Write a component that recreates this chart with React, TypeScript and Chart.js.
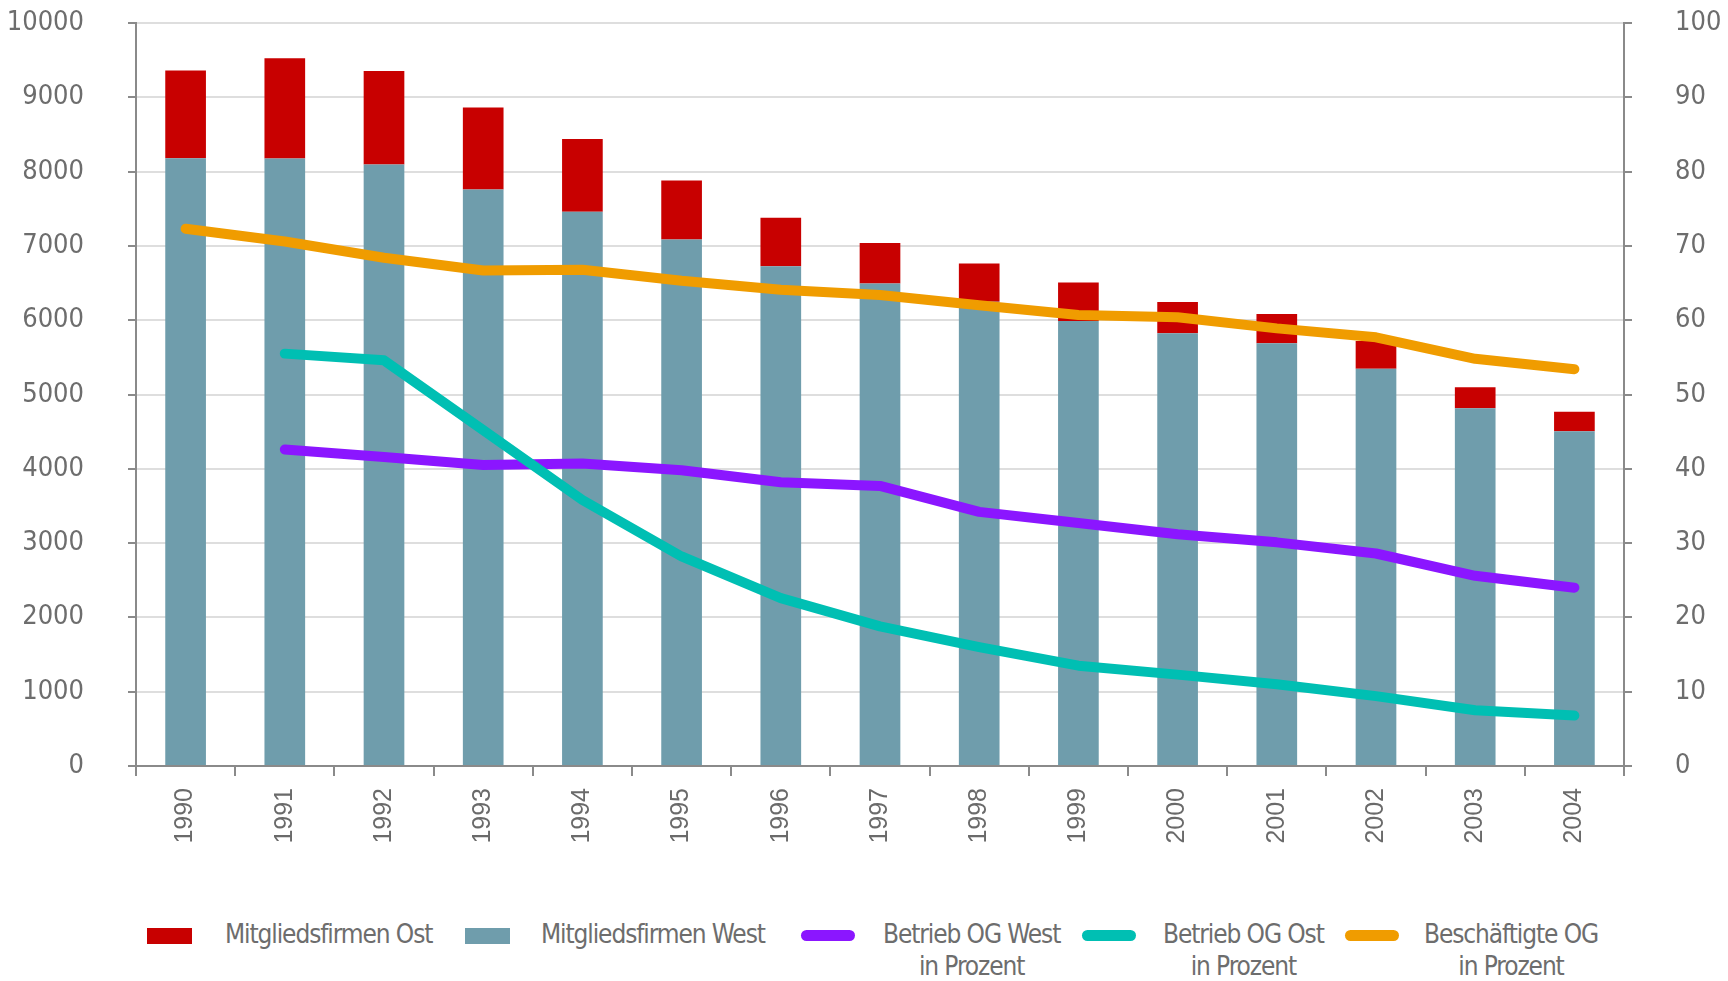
import React, { useEffect, useRef } from "react";
import { Chart, registerables } from "chart.js";

Chart.register(...registerables);

const years = ["1990","1991","1992","1993","1994","1995","1996","1997","1998","1999","2000","2001","2002","2003","2004"];
const firmsWest = [8180, 8175, 8095, 7760, 7460, 7085, 6727, 6495, 6250, 5990, 5825, 5690, 5345, 4815, 4505];
const firmsEast = [1182, 1352, 1258, 1102, 980, 795, 653, 544, 513, 517, 421, 395, 375, 284, 262];
const ogWestPct = [null, 42.6, 41.6, 40.5, 40.7, 39.8, 38.2, 37.7, 34.2, 32.7, 31.2, 30.1, 28.6, 25.6, 24.0];
const ogEastPct = [null, 55.5, 54.6, 45.2, 35.8, 28.2, 22.6, 18.8, 16.0, 13.5, 12.3, 11.0, 9.4, 7.5, 6.8];
const employedPct = [72.3, 70.6, 68.4, 66.7, 66.8, 65.3, 64.1, 63.4, 62.0, 60.7, 60.4, 58.9, 57.7, 54.8, 53.4];

const COLORS = {
  east: "#C80000",
  west: "#6F9DAC",
  ogWest: "#8B16FF",
  ogEast: "#00BFB3",
  employed: "#F09C00",
};

const NARROW = "'Liberation Sans Narrow', 'Arial Narrow', 'DejaVu Sans Condensed', sans-serif";
const TEXT = "#6d6d6d";

const legendItems = [
  { label: ["Mitgliedsfirmen Ost"], color: COLORS.east, kind: "box", left: 147, textGap: 33 },
  { label: ["Mitgliedsfirmen West"], color: COLORS.west, kind: "box", left: 465, textGap: 31 },
  { label: ["Betrieb OG West", "in Prozent"], color: COLORS.ogWest, kind: "line", left: 801, textGap: 28 },
  { label: ["Betrieb OG Ost", "in Prozent"], color: COLORS.ogEast, kind: "line", left: 1082, textGap: 27 },
  { label: ["Beschäftigte OG", "in Prozent"], color: COLORS.employed, kind: "line", left: 1345, textGap: 25 },
];

export default function App() {
  const canvasRef = useRef<HTMLCanvasElement | null>(null);

  useEffect(() => {
    document.body.style.margin = "0";
    const canvas = canvasRef.current;
    if (!canvas) return;
    const lineCommon = {
      type: "line" as const,
      yAxisID: "y1",
      borderWidth: 10,
      pointRadius: 0,
      pointHoverRadius: 0,
      tension: 0,
      borderCapStyle: "round" as const,
      borderJoinStyle: "round" as const,
      fill: false,
      spanGaps: false,
      order: 0,
    };
    const fixPad = (scale: any) => {
      scale.paddingTop = 14;
      scale.paddingBottom = 14;
    };
    const chart = new Chart(canvas, {
      type: "bar",
      data: {
        labels: years,
        datasets: [
          { ...lineCommon, label: "Beschäftigte OG in Prozent", data: employedPct, borderColor: COLORS.employed, backgroundColor: COLORS.employed },
          { ...lineCommon, label: "Betrieb OG Ost in Prozent", data: ogEastPct, borderColor: COLORS.ogEast, backgroundColor: COLORS.ogEast },
          { ...lineCommon, label: "Betrieb OG West in Prozent", data: ogWestPct, borderColor: COLORS.ogWest, backgroundColor: COLORS.ogWest },
          { type: "bar", label: "Mitgliedsfirmen West", data: firmsWest, backgroundColor: COLORS.west, yAxisID: "y", stack: "firms", order: 1, barPercentage: 0.41, categoryPercentage: 1 },
          { type: "bar", label: "Mitgliedsfirmen Ost", data: firmsEast, backgroundColor: COLORS.east, yAxisID: "y", stack: "firms", order: 1, barPercentage: 0.41, categoryPercentage: 1 },
        ] as any,
      },
      options: {
        responsive: false,
        animation: false,
        maintainAspectRatio: false,
        layout: { padding: { top: 23, left: 0, right: 0, bottom: 0 } },
        plugins: { legend: { display: false }, tooltip: { enabled: false } },
        scales: {
          x: {
            stacked: true,
            offset: true,
            grid: { display: true, drawOnChartArea: false, drawTicks: true, tickLength: 10, offset: true, color: "#8a8a8a", tickColor: "#8a8a8a", lineWidth: 2 },
            border: { display: true, color: "#8a8a8a", width: 2 },
            ticks: {
              minRotation: 90,
              maxRotation: 90,
              padding: 12,
              color: "#6a6a6a",
              font: { family: "'Liberation Sans', Arial, sans-serif", size: 25 },
            },
            afterFit: (scale: any) => { scale.height = 134; },
          },
          y: {
            type: "linear",
            position: "left",
            stacked: true,
            min: 0,
            max: 10000,
            ticks: { stepSize: 1000, padding: 44, color: TEXT, font: { family: NARROW, size: 27 }, callback: (v: any) => String(v) },
            grid: { color: "#dedede", lineWidth: 2, tickColor: "#8a8a8a", tickLength: 8, drawTicks: true },
            border: { display: true, color: "#8a8a8a", width: 2 },
            afterFit: (scale: any) => { scale.width = 136; fixPad(scale); },
          },
          y1: {
            type: "linear",
            position: "right",
            min: 0,
            max: 100,
            ticks: { stepSize: 10, padding: 43, color: TEXT, font: { family: NARROW, size: 27 }, callback: (v: any) => String(v) },
            grid: { drawOnChartArea: false, tickColor: "#8a8a8a", tickLength: 8, drawTicks: true, lineWidth: 2 },
            border: { display: true, color: "#8a8a8a", width: 2 },
            afterFit: (scale: any) => { scale.width = 104; fixPad(scale); },
          },
        },
      } as any,
    });
    return () => chart.destroy();
  }, []);

  return (
    <div style={{ position: "fixed", left: 0, top: 0, width: 1728, height: 981, background: "#fff", overflow: "hidden" }}>
      <canvas ref={canvasRef} width={1728} height={900} style={{ position: "absolute", left: 0, top: 0, width: 1728, height: 900 }} />
      {legendItems.map((it, i) => (
        <div key={i} style={{ position: "absolute", left: it.left, top: 916, display: "flex", alignItems: "flex-start" }}>
          {it.kind === "box" ? (
            <div style={{ width: 45, height: 16, background: it.color, marginTop: 12 }} />
          ) : (
            <div style={{ width: 54, height: 11, background: it.color, borderRadius: 6, marginTop: 14 }} />
          )}
          <div style={{ marginLeft: it.textGap, fontFamily: NARROW, fontSize: 26, letterSpacing: "-1.1px", lineHeight: "32px", color: TEXT, textAlign: "center", whiteSpace: "nowrap", paddingTop: 2 }}>
            {it.label.map((l, j) => (
              <div key={j}>{l}</div>
            ))}
          </div>
        </div>
      ))}
    </div>
  );
}
